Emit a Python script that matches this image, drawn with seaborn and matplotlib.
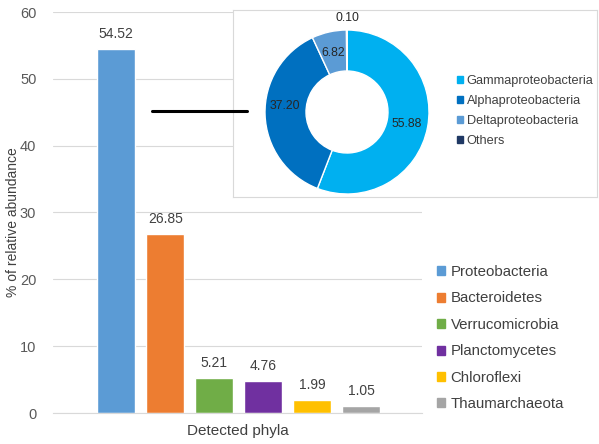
import matplotlib
matplotlib.use("Agg")
import matplotlib.pyplot as plt
import seaborn as sns
import pandas as pd
from matplotlib.lines import Line2D
from matplotlib.patches import Rectangle

# data
phyla = ["Proteobacteria", "Bacteroidetes", "Verrucomicrobia",
         "Planctomycetes", "Chloroflexi", "Thaumarchaeota"]
abundance = [54.52, 26.85, 5.21, 4.76, 1.99, 1.05]
phyla_colors = ["#5B9BD5", "#ED7D31", "#70AD47", "#7030A0", "#FFC000", "#A5A5A5"]

classes = ["Gammaproteobacteria", "Alphaproteobacteria", "Deltaproteobacteria", "Others"]
class_share = [55.88, 37.20, 6.82, 0.10]
class_colors = ["#00B0F0", "#0070C0", "#5B9BD5", "#1F3864"]

sns.set_style("white")
plt.rcParams["font.family"] = ["Liberation Sans", "DejaVu Sans"]

W, H = 599, 444
fig = plt.figure(figsize=(W / 100, H / 100), dpi=100)

def fig_rect(x0, y0, x1, y1):
    # pixel box (top-left origin) -> figure fraction
    return [x0 / W, 1 - y1 / H, (x1 - x0) / W, (y1 - y0) / H]

# main bar chart
ax = fig.add_axes(fig_rect(53, 12, 422, 413))
df = pd.DataFrame({"phylum": phyla, "value": abundance})
sns.barplot(data=df, x="phylum", y="value", hue="phylum", palette=phyla_colors,
            width=0.78, legend=False, ax=ax, saturation=1)
ax.set_ylim(0, 60)
ax.set_xlim(-1.29, 6.24)
ax.set_yticks(range(0, 61, 10))
ax.yaxis.grid(True, color="#D9D9D9", linewidth=0.8)
ax.set_axisbelow(True)
for s in ["top", "right", "left"]:
    ax.spines[s].set_visible(False)
ax.spines["bottom"].set_color("#D9D9D9")
ax.set_xticks([])
ax.tick_params(axis="y", length=0, labelsize=10.5, labelcolor="#595959", pad=12)
ax.set_ylabel("% of relative abundance", fontsize=10, color="#404040")
ax.yaxis.set_label_coords(-0.09, 0.475)
ax.set_xlabel("Detected phyla", fontsize=11, color="#404040", labelpad=8)
for i, v in enumerate(abundance):
    ax.text(i, v + 1.2, f"{v:.2f}", ha="center", va="bottom", fontsize=10, color="#404040")

handles = [Rectangle((0, 0), 1, 1, color=c) for c in phyla_colors]
fig.legend(handles, phyla, loc="upper left", bbox_to_anchor=(437 / W, 1 - 265 / H),
           frameon=False, fontsize=10.8, handlelength=0.55, handleheight=0.55,
           handletextpad=0.35, labelspacing=0.83, borderpad=0, borderaxespad=0,
           labelcolor="#404040")

# inset box
box = fig.add_axes(fig_rect(233, 10, 597, 197))
box.set_xticks([])
box.set_yticks([])
for s in box.spines.values():
    s.set_color("#D9D9D9")
    s.set_linewidth(0.8)
box.set_facecolor("white")

# connector line
fig.add_artist(Line2D([152 / W, 247 / W], [1 - 111 / H, 1 - 111 / H],
                      color="black", linewidth=2.2))

# donut
pax = fig.add_axes(fig_rect(265, 30, 429, 194))
wedges, _ = pax.pie(class_share, colors=class_colors, startangle=90, counterclock=False,
                    radius=1, wedgeprops=dict(width=0.5, edgecolor="white", linewidth=1))
pax.set_xlim(-1, 1)
pax.set_ylim(-1, 1)
pax.set_aspect("equal")
pax.axis("off")
label_pos = [(0.73, -0.15), (-0.76, 0.07), (-0.17, 0.72), (0.0, 1.15)]
for (x, y), v in zip(label_pos, class_share):
    pax.text(x, y, f"{v:.2f}", ha="center", va="center", fontsize=8.8, color="#262626")

chandles = [Rectangle((0, 0), 1, 1, color=c) for c in class_colors]
fig.legend(chandles, classes, loc="upper left", bbox_to_anchor=(457 / W, 1 - 75 / H),
           frameon=False, fontsize=9.2, handlelength=0.45, handleheight=0.45,
           handletextpad=0.3, labelspacing=0.62, borderpad=0, borderaxespad=0,
           labelcolor="#404040")

fig.savefig("out.png", dpi=100)
